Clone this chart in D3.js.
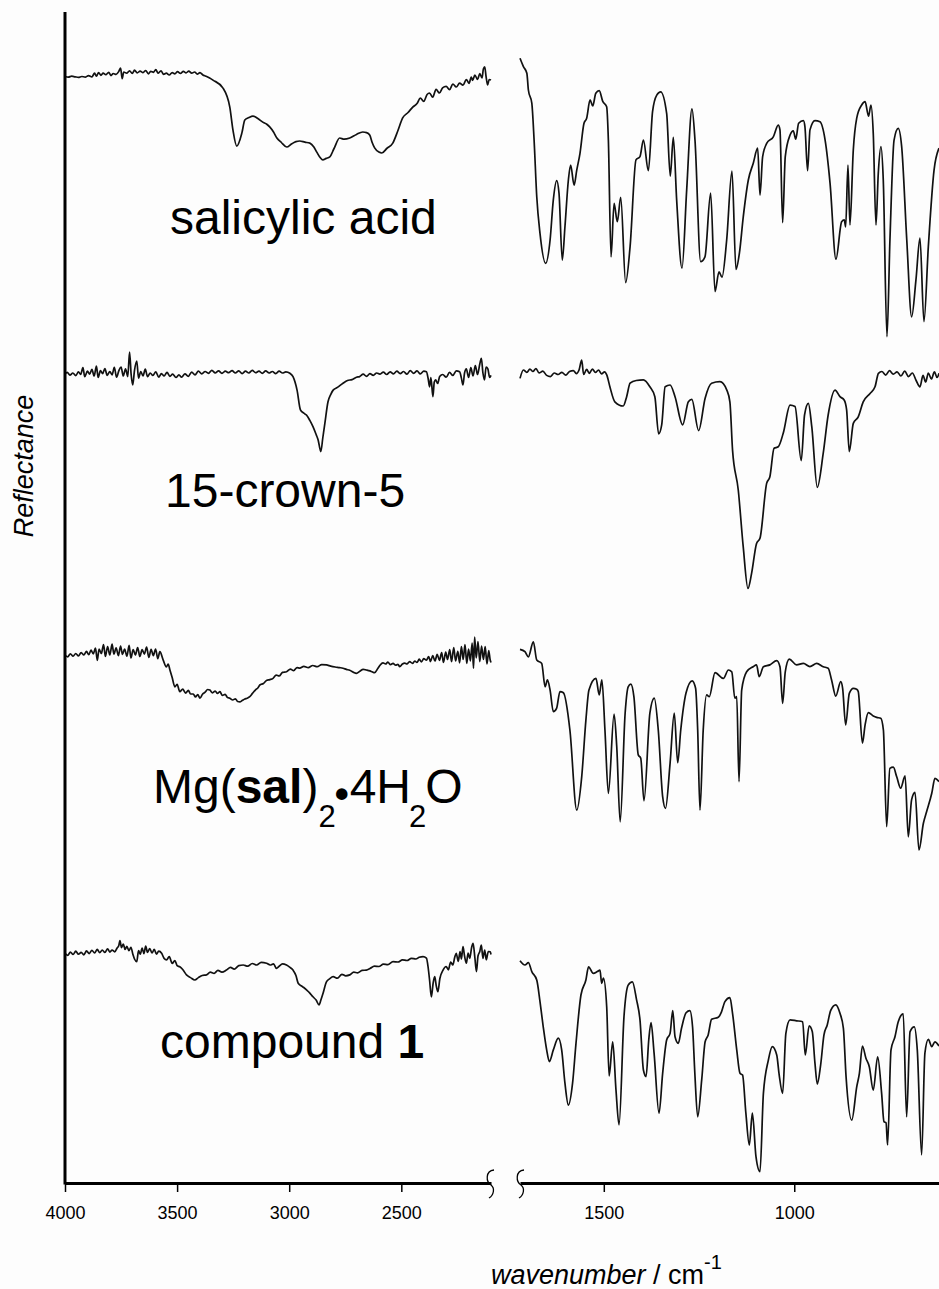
<!DOCTYPE html>
<html>
<head>
<meta charset="utf-8">
<script src="https://cdnjs.cloudflare.com/ajax/libs/d3/7.8.5/d3.min.js"></script>
<style>
  body { margin: 0; background: #fdfdfd; }
  text { font-family: "Liberation Sans", Arial, sans-serif; fill: #000; }
</style>
</head>
<body>
<div id="chart-area"></div>
<script>

// x ranges (cm-1) of the two panels, tick labels
let leftDomain = [4000, 2100];
let rightDomain = [1720, 620];
let leftTicks = [4000, 3500, 3000, 2500];
let rightTicks = [1500, 1000];

let sampleNames = ['salicylic acid', '15-crown-5', 'Mg(sal)2·4H2O', 'compound 1'];

// spectra: [wavenumber, reflectance (arb. units)]
let salicylicLeft = [[4000,94.5],[3985,94.3],[3970,94.6],[3955,94.4],[3940,94.2],[3925,94.5],[3910,94.3],[3895,94.8],[3880,94.4],[3868,95.6],[3860,94.6],[3850,95.8],[3840,94.9],[3830,95.6],[3818,95.1],[3805,95.9],[3795,94.8],[3785,95.5],[3772,95.2],[3760,96.2],[3752,97.3],[3745,93.8],[3738,96.0],[3725,95.6],[3712,96.4],[3700,95.5],[3690,96.6],[3678,95.7],[3665,96.3],[3652,95.8],[3640,96.5],[3628,95.4],[3618,96.2],[3605,95.9],[3595,96.8],[3585,95.6],[3572,96.4],[3560,95.2],[3548,95.6],[3535,95.0],[3522,95.8],[3510,95.4],[3498,96.1],[3485,95.5],[3472,96.2],[3460,95.7],[3448,96.3],[3435,95.6],[3422,96.0],[3410,95.3],[3398,95.8],[3385,95.0],[3372,94.6],[3355,94.0],[3340,93.3],[3296,90.7],[3265,84.3],[3251,76.7],[3234,71.3],[3211,75.7],[3198,80],[3180,80.8],[3162,81.3],[3140,80.5],[3118,79.3],[3100,78.6],[3087,77.7],[3070,76.0],[3055,74],[3035,72.5],[3011,71],[2990,72.0],[2970,72.8],[2953,73],[2930,72.6],[2908,72.3],[2890,71.0],[2877,69.3],[2862,67.5],[2850,66.7],[2835,67.2],[2819,67.7],[2800,70.5],[2775,74],[2755,73.6],[2730,74],[2700,75.2],[2672,76],[2655,75.8],[2641,75],[2630,72.5],[2619,70.7],[2600,69.3],[2587,69],[2565,70.5],[2538,72.3],[2515,76.5],[2494,80.7],[2470,82.5],[2449,84.3],[2430,85.5],[2415,87.3],[2400,86.2],[2385,88.5],[2374,89],[2360,87.6],[2345,90.2],[2330,89.0],[2316,90.7],[2300,91.2],[2285,90.1],[2270,92.0],[2255,91.0],[2240,92.3],[2225,91.6],[2210,93.5],[2198,92.2],[2188,94.3],[2182,93.2],[2172,95.0],[2160,93.5],[2150,95.5],[2140,94.0],[2134,97.0],[2128,97.7],[2122,94.5],[2115,91.7],[2108,93.5],[2100,93.3]];

let salicylicRight = [[1720,100.6],[1711,97.8],[1702,95.6],[1698,90],[1689,85.6],[1683,73.3],[1676,54.4],[1667.5,42.2],[1652.6,32.2],[1641,40],[1632.6,53.3],[1623.7,59.8],[1617.6,55.6],[1609,33.3],[1602,44.4],[1593,60],[1587,65],[1578,58.3],[1571,63.3],[1562.5,68.9],[1552,78.9],[1545,80.6],[1536,86.7],[1529,84.7],[1521,88.9],[1512,89.8],[1503,86.3],[1492.5,84.4],[1488,73.3],[1481,34.4],[1473,52.2],[1464.5,46.1],[1455.6,54.2],[1442.6,25.8],[1431,37.8],[1415.5,66.7],[1405,67.8],[1396,73.3],[1383,63.1],[1372,82.8],[1361,88.3],[1350.7,89.4],[1335,82.2],[1325.5,61.3],[1317.5,74.2],[1308.7,53.3],[1294.7,30.6],[1282.4,56.7],[1268.5,83.7],[1260.6,73.3],[1245.7,32.8],[1234.4,34.4],[1219.5,55.6],[1208,22.8],[1197.6,29.4],[1189.7,27.6],[1177.4,40],[1163.5,63],[1153,30.2],[1144,35.6],[1133.8,47.8],[1120.6,60],[1107.6,65.6],[1096,70.6],[1090,55],[1083,67.8],[1072.4,72.2],[1055,74.4],[1042,78.3],[1037.5,76.7],[1030.5,45.8],[1023.6,67.8],[1011,75],[1002.6,76.4],[996,73.6],[988.5,78.9],[976,79.8],[972,77.8],[965,63.1],[958.7,76.7],[945.6,79.8],[932.5,79.4],[919,73.3],[906,58.9],[890.5,33.6],[875.6,46.1],[868.7,46.7],[865,44.4],[859,65],[853.8,45],[845,70],[836,80.6],[823,85],[814,86.1],[805,81.3],[798.6,85],[792.6,75.6],[785.5,45],[779.4,62.2],[772.4,71.1],[766.3,60],[756.6,7.8],[748.8,40],[738,73.3],[727,77.2],[718,71.1],[704.6,40],[691.8,14.4],[680.5,26.7],[670,40.6],[659.5,12.8],[648,37.8],[633,63.3],[620,70.6]];

let crownLeft = [[4000,94.6],[3990,95.2],[3978,94.3],[3965,95.0],[3952,94.1],[3940,95.4],[3930,94.5],[3920,96.8],[3912,93.8],[3900,95.6],[3890,94.6],[3880,96.2],[3870,94.0],[3860,97.3],[3852,93.5],[3842,95.8],[3832,94.8],[3822,96.5],[3812,94.2],[3800,95.5],[3790,94.4],[3780,96.9],[3770,93.6],[3760,95.7],[3750,97.0],[3740,94.0],[3730,96.4],[3720,93.8],[3712,102.0],[3705,94.5],[3698,91.0],[3690,95.9],[3680,99.0],[3672,93.3],[3662,95.5],[3652,94.0],[3642,96.3],[3632,93.8],[3620,95.0],[3608,94.2],[3595,95.4],[3582,93.6],[3570,94.8],[3558,94.0],[3545,95.2],[3532,93.9],[3520,94.6],[3505,93.5],[3492,94.4],[3480,93.6],[3465,94.7],[3450,93.9],[3435,95.3],[3420,94.4],[3405,95.6],[3390,94.7],[3375,95.5],[3360,94.9],[3345,95.9],[3330,95.0],[3315,95.7],[3300,94.9],[3285,95.6],[3270,95.1],[3255,95.8],[3240,95.0],[3225,95.7],[3210,94.8],[3195,95.6],[3180,95.0],[3165,95.9],[3150,95.1],[3135,95.6],[3120,94.9],[3105,95.7],[3090,95.0],[3075,95.5],[3060,94.8],[3045,95.6],[3030,95.0],[3015,95.4],[2997,94.9],[2983,93.8],[2965,89.3],[2950,82.7],[2935,81.6],[2923,81],[2908,79.2],[2894,77.1],[2880,74.5],[2871,72.7],[2859,68.8],[2850,73.5],[2841,78.2],[2827,85.4],[2815,87.8],[2804,89.3],[2785,90.2],[2760,91.6],[2740,92.5],[2720,92.8],[2700,93.6],[2686,93.8],[2670,94.6],[2655,93.9],[2640,94.8],[2625,94.2],[2610,95.0],[2596,94.6],[2580,95.3],[2565,94.5],[2550,95.4],[2535,94.7],[2520,95.6],[2505,94.8],[2490,95.5],[2475,94.6],[2460,95.8],[2445,94.9],[2430,95.7],[2415,94.7],[2400,95.6],[2388,95.4],[2380,93.0],[2374,90.4],[2368,93.5],[2359,87.1],[2353,92.0],[2347,92.7],[2338,91.5],[2329,93.8],[2315,94.5],[2300,93.6],[2285,95.2],[2270,94.2],[2255,95.7],[2240,95.4],[2232,93.3],[2225,91],[2218,95.0],[2210,96.4],[2200,93.5],[2190,96.8],[2180,94.0],[2170,97.5],[2160,94.5],[2150,98.0],[2143,99.9],[2136,95.0],[2129,92.7],[2122,97.0],[2114,96.4],[2106,93.5],[2100,94.2]];

let crownRight = [[1720,93.2],[1711,96],[1702,95.2],[1694,96.3],[1686,95.5],[1678,96.5],[1670,95.0],[1660,95.6],[1650,94.2],[1640,93.8],[1630,95.0],[1620,94.5],[1610,95.2],[1600,94.3],[1590,95.5],[1580,95.8],[1572,94.8],[1565,96.0],[1558,99.3],[1553,94.5],[1545,96.2],[1538,94.9],[1530,96.3],[1522,95.2],[1514,96.0],[1506,94.7],[1498,95.4],[1492,94.3],[1484,90.4],[1471,85.4],[1449,84],[1440,87.1],[1431,91.6],[1415,92.5],[1396,92.7],[1379,90.4],[1366,87.1],[1356,74.7],[1348,77.7],[1339,90.4],[1326,91],[1313,87.1],[1293,77.7],[1278,85.4],[1269,86.2],[1251,75.8],[1234,86.6],[1217,91.6],[1195,92.1],[1177,89.3],[1169,85.4],[1162,69.3],[1147,56],[1134,37.1],[1121.5,23.2],[1112,28.2],[1099,38.2],[1090,39.9],[1072.5,58.2],[1064,60.4],[1053,69.9],[1042,70.4],[1029,74.9],[1011,84.3],[998,83.8],[981.6,65.8],[973,81],[963,84.9],[954,77.1],[939.5,56.9],[924,68.2],[911,81],[893,89.3],[880,87.1],[869,86],[862.5,82.7],[855.5,68.8],[845,78.2],[832,80.4],[819,85.4],[801,88.2],[788,90.4],[779,94.9],[770,95.5],[760,94.3],[750,95.8],[740,94.6],[730,95.4],[720,94.0],[710,95.6],[700,93.8],[690,95.0],[680,92.5],[670,90.4],[662,94.2],[655,92.0],[648,95.0],[640,93.0],[632,95.4],[625,93.5],[620,94.9]];

let mgsalLeft = [[4000,95.0],[3988,94.4],[3976,95.4],[3964,94.6],[3952,95.5],[3940,94.7],[3928,95.8],[3916,95.0],[3904,96.2],[3894,95.1],[3884,96.6],[3874,95.4],[3864,97.3],[3856,93.2],[3848,97.0],[3838,95.5],[3828,98.5],[3820,94.5],[3810,97.8],[3800,95.0],[3790,98.6],[3782,95.3],[3772,97.4],[3762,94.8],[3752,98.0],[3744,95.2],[3734,97.0],[3724,94.6],[3714,98.2],[3706,94.0],[3696,96.8],[3686,95.0],[3676,97.5],[3666,94.5],[3656,96.8],[3646,95.3],[3636,97.6],[3626,94.2],[3616,96.9],[3606,94.8],[3596,97.0],[3586,93.8],[3577,96.1],[3562,93.3],[3548,91.0],[3540,92.0],[3532,90.0],[3522,87.5],[3510,84.4],[3500,85.2],[3488,82.8],[3475,83.6],[3462,82.3],[3450,83.2],[3440,82.0],[3428,82.0],[3418,81.0],[3408,81.8],[3398,80.6],[3386,82.0],[3375,82.6],[3364,83.5],[3354,83.3],[3342,82.4],[3330,83.0],[3320,82.2],[3309,82.8],[3298,81.5],[3286,81.9],[3275,80.8],[3265,80.6],[3252,80.0],[3240,80.4],[3230,79.5],[3220,79.4],[3210,79.8],[3198,80.3],[3188,80.6],[3176,81.1],[3164,82.2],[3150,83.4],[3140,84.0],[3131,85],[3115,85.5],[3100,86.6],[3086,86.8],[3072,87.2],[3058,88.3],[3045,88.0],[3030,89.2],[3012,89.4],[2995,90.3],[2980,89.8],[2965,90.8],[2953,90.6],[2935,91.2],[2915,90.8],[2895,91.5],[2875,91.1],[2855,91.8],[2834,91.7],[2815,91.3],[2795,91.0],[2775,90.8],[2760,90.6],[2745,90.2],[2730,89.9],[2715,89.3],[2700,88.9],[2685,89.6],[2670,90.2],[2656,90],[2640,89.7],[2630,89.4],[2619,89.1],[2605,90.5],[2595,91.6],[2582,92.4],[2570,92.0],[2560,92.6],[2548,91.8],[2537,92.2],[2525,91.6],[2515,91.9],[2507,91.1],[2495,92.0],[2485,92.3],[2475,92.0],[2463,92.8],[2450,92.2],[2440,93.0],[2430,92.5],[2420,93.6],[2410,92.7],[2400,93.8],[2388,93.3],[2378,94.5],[2370,92.8],[2360,94.8],[2350,93.0],[2340,95.2],[2330,93.2],[2320,95.8],[2312,92.5],[2302,96.0],[2294,93.5],[2284,96.8],[2276,92.8],[2266,97.5],[2258,93.0],[2248,96.2],[2240,92.4],[2232,97.8],[2224,93.5],[2216,98.5],[2208,92.2],[2200,97.0],[2192,93.0],[2184,99.0],[2178,90.6],[2173,101.0],[2166,94.0],[2158,99.5],[2150,92.8],[2142,98.0],[2134,93.5],[2126,97.8],[2118,92.0],[2110,96.5],[2104,93.5],[2100,92.5]];

let mgsalRight = [[1720,96.9],[1707,96.1],[1698,94.4],[1685,99.4],[1676,93.3],[1663,92.2],[1654,84.4],[1648,86.7],[1641,83.3],[1632.5,76.1],[1624,77.2],[1615,82.8],[1606,82.4],[1589,70],[1571,43.3],[1558,54.4],[1547,73.3],[1539,83.3],[1520.5,87.2],[1512,81.7],[1505,86.7],[1497,70],[1488,48.9],[1473,75.3],[1466,64.4],[1457,39.4],[1444,75.6],[1436,84.4],[1429,85.3],[1421,81.1],[1409.5,61.7],[1403,60.6],[1394.5,46.4],[1379,75.6],[1367.5,80.6],[1357,70],[1345.5,47.8],[1338,43.9],[1326,58.9],[1315,75.6],[1306,59.1],[1298,70],[1284,82.4],[1268,86.4],[1259,83.9],[1253.5,70],[1247.5,43.3],[1239,70],[1230,81.7],[1223,81.1],[1208,89.1],[1186,87.2],[1173,90],[1164,89.4],[1156,80.6],[1151,81.1],[1145,52.8],[1138,83.3],[1125,89.4],[1108,91.1],[1099,91.7],[1092,87.8],[1081,91.1],[1064,91.7],[1046,93.1],[1037.5,91.1],[1030.5,78.9],[1023.6,89.4],[1013,93.6],[994,91.7],[976,92.2],[959,91.1],[941,92.2],[924,91.1],[911,90.6],[902,86.7],[891,81.3],[878,86.1],[873,83.9],[865,71.7],[855.5,82.2],[845,83.9],[836,83.6],[832,82.8],[821,65.6],[814,71.7],[805.6,75.8],[792.6,74.7],[783.6,74.2],[773,73.9],[766,70],[757.4,37.8],[749,57.2],[740,57.6],[731,54.4],[720.6,50.6],[709,54.7],[700.6,34.4],[692,46.7],[683,49.2],[672.6,30],[661,38.9],[652.4,42.8],[639,48.9],[630.6,53.9],[620,52.8]];

let cmpdLeft = [[4000,94.9],[3988,94.2],[3976,95.3],[3964,94.5],[3952,95.6],[3940,94.6],[3928,95.2],[3916,94.4],[3904,95.7],[3892,94.8],[3880,95.9],[3868,95.0],[3856,96.2],[3845,95.1],[3834,96.0],[3822,95.2],[3810,96.4],[3800,95.3],[3790,96.0],[3778,95.4],[3768,96.6],[3760,97.5],[3755,99.1],[3748,96.8],[3740,98.0],[3732,96.2],[3724,97.2],[3715,95.8],[3706,96.9],[3697,94.5],[3690,93.0],[3680,92.1],[3672,95.8],[3664,94.6],[3656,96.6],[3648,94.8],[3640,97.3],[3632,95.2],[3622,96.5],[3612,95.0],[3602,96.2],[3592,94.6],[3582,95.6],[3569,94.9],[3558,93.2],[3547,92.7],[3535,93.8],[3522,91.5],[3510,92.5],[3500,90.8],[3488,90.4],[3475,89.5],[3458,87.7],[3440,86.8],[3421,86],[3405,86.8],[3388,87.5],[3369,87.7],[3352,88.6],[3335,88.2],[3318,89.2],[3300,88.6],[3280,89.3],[3262,90.2],[3245,89.6],[3225,90.8],[3205,91],[3185,90.6],[3165,91.5],[3145,91.0],[3125,91.9],[3101,91.6],[3085,91.0],[3070,91.4],[3057,89.9],[3045,90.6],[3030,91.4],[3012,91],[2998,90.3],[2983,89.3],[2970,87.5],[2960,84.9],[2945,84.0],[2935,83.5],[2923,82.7],[2910,81.8],[2894,80.4],[2880,79.3],[2867,77.7],[2858,79.5],[2849,81.6],[2834,85.4],[2820,86.4],[2804,87.1],[2785,86.6],[2765,87.9],[2748,87.4],[2730,87.7],[2712,88.6],[2695,88.4],[2675,89.2],[2656,89.3],[2640,89.8],[2620,90.6],[2600,90.5],[2580,91.3],[2560,91.1],[2537,92.1],[2515,92.0],[2495,92.7],[2475,92.5],[2455,93.2],[2435,93.0],[2420,93.6],[2403,93.8],[2388,93.3],[2380,90.0],[2374,86],[2366,80.4],[2358,85.0],[2351,87.1],[2344,84.0],[2337,82.1],[2328,86.5],[2314,89.3],[2300,90.5],[2290,89.4],[2280,92.0],[2270,91.0],[2262,93.5],[2255,94.9],[2246,92.2],[2238,95.5],[2232,93.0],[2225,97.1],[2218,94.0],[2210,91.6],[2202,95.0],[2195,93.2],[2186,97.0],[2180,98.2],[2172,93.5],[2165,88.8],[2158,94.0],[2150,95.5],[2143,97.6],[2136,93.2],[2128,96.0],[2121,92.7],[2112,95.5],[2103,95.4],[2100,94.5]];

let cmpdRight = [[1720,92.4],[1707,91],[1698,91.8],[1689,88.8],[1676,86],[1667.5,78.8],[1659,70.4],[1650,62.7],[1643,58.8],[1632.5,62.7],[1619.5,66.6],[1610.6,62.7],[1602,51.6],[1593,44.3],[1582,51.6],[1573,64.9],[1560,81],[1547,86],[1540,90.4],[1527.6,88.2],[1517,88.8],[1510,89.3],[1505.6,84.9],[1501,86.6],[1492.4,77.1],[1486,54],[1476.6,65.4],[1468,49.3],[1460,37.7],[1447,73.8],[1436,84.3],[1425,85.4],[1413.8,79.3],[1405,72.7],[1396,56],[1389,53.8],[1382,66],[1376,71.8],[1368,61.6],[1355,41.6],[1345.5,54.9],[1335,66],[1326,68.2],[1319,75.8],[1313,67.1],[1304.5,64.9],[1296,69.9],[1284,75.1],[1274,75.8],[1267,70.4],[1261,54.9],[1253.5,40.4],[1243,52.7],[1234,65.4],[1226,67.7],[1217,72.9],[1199.5,73.6],[1191,75.4],[1182,78.8],[1169,80.1],[1162,74.9],[1151,62.7],[1142.5,54.9],[1135.7,54.3],[1127,41.6],[1118,31],[1110,41.6],[1100.5,27.1],[1090,22.1],[1081,48.2],[1068,59.3],[1057.7,63.8],[1046,61],[1039.5,54.3],[1030.5,48.2],[1022,68.2],[1011,72.7],[994,72.4],[978,72.1],[971,61],[961,70.7],[952.7,68.8],[945.6,58.2],[939.5,51.3],[930.7,57.7],[922,67.7],[913.4,71],[904.5,75.8],[891,77.7],[880,74.9],[871,69.9],[864,53.8],[849,39.3],[836,50.4],[829,54.9],[821,64],[811.8,59.9],[803,57.1],[792.6,49.3],[781,60.4],[770.6,48.2],[764.5,38.8],[759,38.4],[755,31],[746,62.7],[735.6,67.1],[727,72.1],[713.9,74.7],[705,40.4],[696,68.8],[685,70.4],[677,62.7],[665.6,27.7],[657,61.6],[648,66.2],[639,63.8],[630.6,65.4],[620,64]];

let spectra = [
  {left: salicylicLeft, right: salicylicRight},
  {left: crownLeft, right: crownRight},
  {left: mgsalLeft, right: mgsalRight},
  {left: cmpdLeft, right: cmpdRight}
];

let width = 939, height = 1289;
let axisY = 1183, axisTop = 12, axisLeft = 65;
let bandBottoms = [360, 658, 940, 1238];

let svg = d3.select("#chart-area").append("svg")
    .attr("width", width)
    .attr("height", height);

svg.append("rect")
    .attr("width", width)
    .attr("height", height)
    .attr("fill", "#fdfdfd");

// Scales
let xLeft = d3.scaleLinear().domain(leftDomain).range([axisLeft, 491]);
let xRight = d3.scaleLinear().domain(rightDomain).range([520, 939]);

// traces
spectra.forEach((s, i) => {
    let y = d3.scaleLinear()
        .domain([0, 100])
        .range([bandBottoms[i], bandBottoms[i] - 300]);

    [[s.left, xLeft], [s.right, xRight]].forEach(([data, x]) => {
        let line = d3.line()
            .curve(d3.curveMonotoneX)
            .x(d => x(d[0]))
            .y(d => y(d[1]));
        svg.append("path")
            .datum(data)
            .attr("class", "trace")
            .attr("fill", "none")
            .attr("stroke", "#111")
            .attr("stroke-width", 1.7)
            .attr("stroke-linejoin", "round")
            .attr("d", line);
    });
});

// axes
let fmt = d3.format("d");
let xAxisLeft = d3.axisBottom(xLeft).tickValues(leftTicks).tickFormat(fmt)
    .tickSize(9).tickSizeOuter(0).tickPadding(14);
let xAxisRight = d3.axisBottom(xRight).tickValues(rightTicks).tickFormat(fmt)
    .tickSize(9).tickSizeOuter(0).tickPadding(14);

[xAxisLeft, xAxisRight].forEach(ax => {
    let g = svg.append("g")
        .attr("class", "x-axis axis")
        .attr("transform", "translate(0," + axisY + ")")
        .call(ax);
    g.select(".domain").attr("stroke", "#000").attr("stroke-width", 3);
    g.selectAll(".tick line").attr("stroke", "#000").attr("stroke-width", 1.5);
    g.selectAll(".tick text")
        .attr("font-family", "'Liberation Sans', Arial, sans-serif")
        .attr("font-size", 18)
        .attr("fill", "#000");
});

svg.append("line")
    .attr("x1", axisLeft).attr("x2", axisLeft)
    .attr("y1", axisTop).attr("y2", axisY + 1.5)
    .attr("stroke", "#000")
    .attr("stroke-width", 3);

// axis break marks
function breakMark(x) {
    let y = axisY;
    return "M" + (x + 4) + "," + (y - 13) +
        " C" + (x - 5) + "," + (y - 12) + " " + (x - 4) + "," + (y - 1) + " " + (x + 1) + "," + (y + 2) +
        " C" + (x + 5) + "," + (y + 5) + " " + (x + 4) + "," + (y + 12) + " " + (x - 1) + "," + (y + 15);
}
[xLeft.range()[1] - 1, xRight.range()[0]].forEach(x => {
    svg.append("path")
        .attr("d", breakMark(x))
        .attr("fill", "none")
        .attr("stroke", "#000")
        .attr("stroke-width", 1.3);
});

// axis titles
svg.append("text")
    .attr("transform", "translate(33,466) rotate(-90)")
    .attr("text-anchor", "middle")
    .attr("font-size", 27)
    .attr("font-style", "italic")
    .text("Reflectance");

let xt = svg.append("text")
    .attr("x", 491)
    .attr("y", 1284)
    .attr("font-size", 27);
xt.append("tspan").attr("font-style", "italic").text("wavenumber");
xt.append("tspan").text(" / cm");
xt.append("tspan").attr("font-size", 20).attr("dy", -15).text("-1");

// sample labels
let labelPos = [[170, 234], [165, 507], [153, 803], [160, 1058]];

svg.append("text")
    .attr("x", labelPos[0][0]).attr("y", labelPos[0][1])
    .attr("font-size", 48)
    .text(sampleNames[0]);

svg.append("text")
    .attr("x", labelPos[1][0]).attr("y", labelPos[1][1])
    .attr("font-size", 48)
    .text(sampleNames[1]);

let mg = svg.append("text")
    .attr("x", labelPos[2][0]).attr("y", labelPos[2][1])
    .attr("font-size", 48);
mg.append("tspan").text("Mg(");
mg.append("tspan").attr("font-weight", "bold").text("sal");
mg.append("tspan").text(")");
mg.append("tspan").attr("font-size", 31).attr("dy", 24).text("2");
mg.append("tspan").attr("font-weight", "bold").attr("font-size", 40).attr("dy", -19).attr("dx", -1).text("•");
mg.append("tspan").attr("dy", -5).attr("dx", 1).text("4H");
mg.append("tspan").attr("font-size", 31).attr("dy", 24).attr("dx", -2).text("2");
mg.append("tspan").attr("dy", -24).attr("dx", -1).text("O");

let cp = svg.append("text")
    .attr("x", labelPos[3][0]).attr("y", labelPos[3][1])
    .attr("font-size", 48);
cp.append("tspan").text("compound ");
cp.append("tspan").attr("font-weight", "bold").text("1");

</script>
</body>
</html>
